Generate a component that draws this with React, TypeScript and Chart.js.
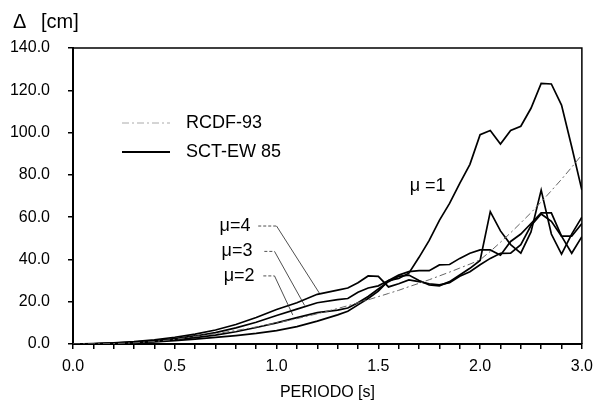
import { useEffect, useRef } from "react";
import { Chart, registerables } from "chart.js";

Chart.register(...registerables);

// Axis position (the printed tick labels are not evenly valued: the last one is 3.0)
const periods = [
  0, 0.1, 0.2, 0.3, 0.4, 0.5, 0.6, 0.7, 0.8, 0.9, 1.0, 1.1, 1.2, 1.3,
  1.35, 1.4, 1.45, 1.5, 1.55, 1.6, 1.65, 1.7, 1.75, 1.8, 1.85, 1.9, 1.95,
  2.0, 2.05, 2.1, 2.15, 2.2, 2.25, 2.3, 2.35, 2.4, 2.45, 2.5,
];

const rcdf93 = [
  0, 0.04, 0.2, 0.56, 1.19, 2.17, 3.58, 4.87, 6.36, 8.05, 9.94, 12.0, 14.3, 16.8,
  18.1, 19.5, 20.9, 22.4, 23.9, 25.4, 27.1, 28.7, 30.4, 32.2, 34.0, 35.9, 37.8,
  39.8, 43.8, 48.1, 52.6, 57.3, 62.1, 67.2, 72.5, 77.9, 83.6, 89.5,
];

const mu1 = [
  0, 0.05, 0.2, 0.5, 1.0, 1.6, 2.3, 3.1, 4.0, 5.0, 6.3, 8.2, 10.8, 13.8,
  15.5, 18.5, 21.5, 25, 30, 31, 33.5, 41, 49, 58.5, 66.5, 76, 85,
  99, 101, 94.6, 101, 103, 111.5, 123.3, 123, 113, 93.3, 72.8,
];

const mu2 = [
  0, 0.08, 0.3, 0.7, 1.3, 2.1, 3.0, 4.2, 5.8, 7.8, 10, 12.5, 14.8, 16,
  17, 19.5, 22.5, 26, 29.5, 32, 32.6, 30, 28, 27.5, 29.5, 32.6, 35.8,
  39.5, 62.6, 53.5, 47, 43, 53, 72.8, 52, 42.5, 52, 60,
];

const mu3 = [
  0, 0.1, 0.4, 0.9, 1.6, 2.6, 3.8, 5.4, 7.6, 10.3, 13.5, 16.5, 19.5, 21,
  21.5, 24.5, 26.5, 27.5, 30, 32.6, 34.2, 34.7, 34.7, 37.4, 37.6, 40.5, 42.9,
  44.5, 44.5, 42, 48.5, 52, 57, 62, 62, 51, 51, 57,
];

const mu4 = [
  0, 0.15, 0.5, 1.1, 2.0, 3.2, 4.7, 6.6, 9.2, 12.5, 16.3, 19.5, 23.5, 25.5,
  26.5, 29, 32.2, 32, 27, 28.5, 30.3, 29.5, 28.5, 28, 29, 32, 34.2,
  37.5, 40.5, 42.9, 43, 47, 56, 61.5, 58, 51, 42.9, 50.8,
];

const xTickLabels = ["0.0", "0.5", "1.0", "1.5", "2.0", "3.0"];
const legendLabels = ["RCDF-93", "SCT-EW 85"];
const muTexts = ["μ=4", "μ=3", "μ=2", "μ =1"];
const yTitle = "Δ [cm]";
const xTitle = "PERIODO [s]";

const FONT = '"Liberation Sans", Arial, sans-serif';

const toPts = (vals: number[]) => periods.map((p, i) => ({ x: p, y: vals[i] }));

export default function App() {
  const ref = useRef<HTMLCanvasElement | null>(null);

  useEffect(() => {
    if (!ref.current) return;

    const leaders = [
      { text: muTexts[0], at: [0.72, 55.8], h: [0.91, 1.0, 55.8], tip: [1.21, 24.1] },
      { text: muTexts[1], at: [0.73, 43.8], h: [0.94, 0.99, 43.8], tip: [1.138, 18.2] },
      { text: muTexts[2], at: [0.74, 32.2], h: [0.935, 0.99, 32.2], tip: [1.08, 13.7] },
      { text: muTexts[3], at: [1.654, 74.7], h: null, tip: null },
    ];

    const decor = {
      id: "decor",
      beforeDraw(chart: any) {
        const { ctx, width, height } = chart;
        ctx.save();
        ctx.fillStyle = "#fff";
        ctx.fillRect(0, 0, width, height);
        ctx.restore();
      },
      afterDatasetsDraw(chart: any) {
        const { ctx, chartArea, scales } = chart;
        const xs = scales.x;
        const ys = scales.y;
        ctx.save();
        // frame top/right
        ctx.strokeStyle = "#000";
        ctx.lineWidth = 1.5;
        ctx.beginPath();
        ctx.moveTo(chartArea.left, chartArea.top);
        ctx.lineTo(chartArea.right, chartArea.top);
        ctx.lineTo(chartArea.right, chartArea.bottom);
        ctx.stroke();

        // annotations
        ctx.fillStyle = "#000";
        ctx.font = "18px " + FONT;
        ctx.textAlign = "left";
        ctx.textBaseline = "middle";
        for (const a of leaders) {
          ctx.fillText(a.text, xs.getPixelForValue(a.at[0]), ys.getPixelForValue(a.at[1]));
          if (a.h && a.tip) {
            const x0 = xs.getPixelForValue(a.h[0]);
            const x1 = xs.getPixelForValue(a.h[1]);
            const yy = ys.getPixelForValue(a.h[2]);
            ctx.lineWidth = 0.8;
            ctx.strokeStyle = "#222";
            ctx.setLineDash([3, 2]);
            ctx.beginPath();
            ctx.moveTo(x0, yy);
            ctx.lineTo(x1, yy);
            ctx.stroke();
            ctx.setLineDash([]);
            ctx.beginPath();
            ctx.moveTo(x1, yy);
            ctx.lineTo(xs.getPixelForValue(a.tip[0]), ys.getPixelForValue(a.tip[1]));
            ctx.stroke();
          }
        }

        // legend
        ctx.lineWidth = 1;
        ctx.strokeStyle = "#aaa";
        ctx.setLineDash([7, 3, 2, 3]);
        ctx.beginPath();
        ctx.moveTo(122, 123);
        ctx.lineTo(170, 123);
        ctx.stroke();
        ctx.setLineDash([]);
        ctx.strokeStyle = "#000";
        ctx.lineWidth = 2;
        ctx.beginPath();
        ctx.moveTo(122, 152);
        ctx.lineTo(170, 152);
        ctx.stroke();
        ctx.fillText(legendLabels[0], 186, 123);
        ctx.fillText(legendLabels[1], 186, 152);

        // axis titles
        ctx.font = "20px " + FONT;
        (ctx as any).wordSpacing = "9px";
        ctx.fillText(yTitle, 13, 22);
        (ctx as any).wordSpacing = "0px";
        ctx.font = "16px " + FONT;
        ctx.textAlign = "center";
        ctx.fillText(xTitle, (chartArea.left + chartArea.right) / 2, 393);
        ctx.restore();
      },
    };

    const chart = new Chart(ref.current, {
      type: "line",
      data: {
        datasets: [
          {
            label: legendLabels[0],
            data: toPts(rcdf93),
            borderColor: "#666",
            borderWidth: 1,
            borderDash: [7, 3, 2, 3],
          },
          { label: "μ=1", data: toPts(mu1), borderColor: "#000", borderWidth: 1.7 },
          { label: "μ=2", data: toPts(mu2), borderColor: "#000", borderWidth: 1.7 },
          { label: "μ=3", data: toPts(mu3), borderColor: "#000", borderWidth: 1.7 },
          { label: "μ=4", data: toPts(mu4), borderColor: "#000", borderWidth: 1.7 },
        ],
      },
      options: {
        animation: false,
        responsive: false,
        maintainAspectRatio: false,
        layout: { padding: { left: 0, top: 48, right: 14, bottom: 0 } },
        elements: { point: { radius: 0 }, line: { tension: 0 } },
        plugins: {
          legend: { display: false },
          tooltip: { enabled: false },
          title: { display: false },
        },
        scales: {
          x: {
            type: "linear",
            min: 0,
            max: 2.5,
            afterFit: (s: any) => {
              s.height = 66;
            },
            ticks: {
              stepSize: 0.1,
              maxTicksLimit: 100,
              autoSkip: false,
              maxRotation: 0,
              padding: 8,
              color: "#000",
              font: { family: FONT, size: 16 },
              callback: (v: any) => {
                const k = Math.round(Number(v) * 10);
                return k % 5 === 0 ? xTickLabels[k / 5] : "";
              },
            },
            grid: {
              display: true,
              drawOnChartArea: false,
              drawTicks: true,
              tickLength: 5,
              color: "#000",
              lineWidth: 1.5,
            },
            border: { display: true, color: "#000", width: 2 },
          },
          y: {
            min: 0,
            max: 140,
            afterFit: (s: any) => {
              s.width = 73;
            },
            ticks: {
              stepSize: 20,
              padding: 18,
              color: "#000",
              font: { family: FONT, size: 16 },
              callback: (v: any) => Number(v).toFixed(1),
            },
            grid: {
              display: true,
              drawOnChartArea: false,
              drawTicks: true,
              tickLength: 5,
              color: "#000",
              lineWidth: 1.5,
            },
            border: { display: true, color: "#000", width: 2 },
          },
        },
      },
      plugins: [decor],
    } as any);

    return () => chart.destroy();
  }, []);

  return (
    <div style={{ position: "fixed", left: 0, top: 0, width: 601, height: 410, background: "#fff" }}>
      <canvas ref={ref} width={601} height={410} style={{ display: "block" }} />
    </div>
  );
}
